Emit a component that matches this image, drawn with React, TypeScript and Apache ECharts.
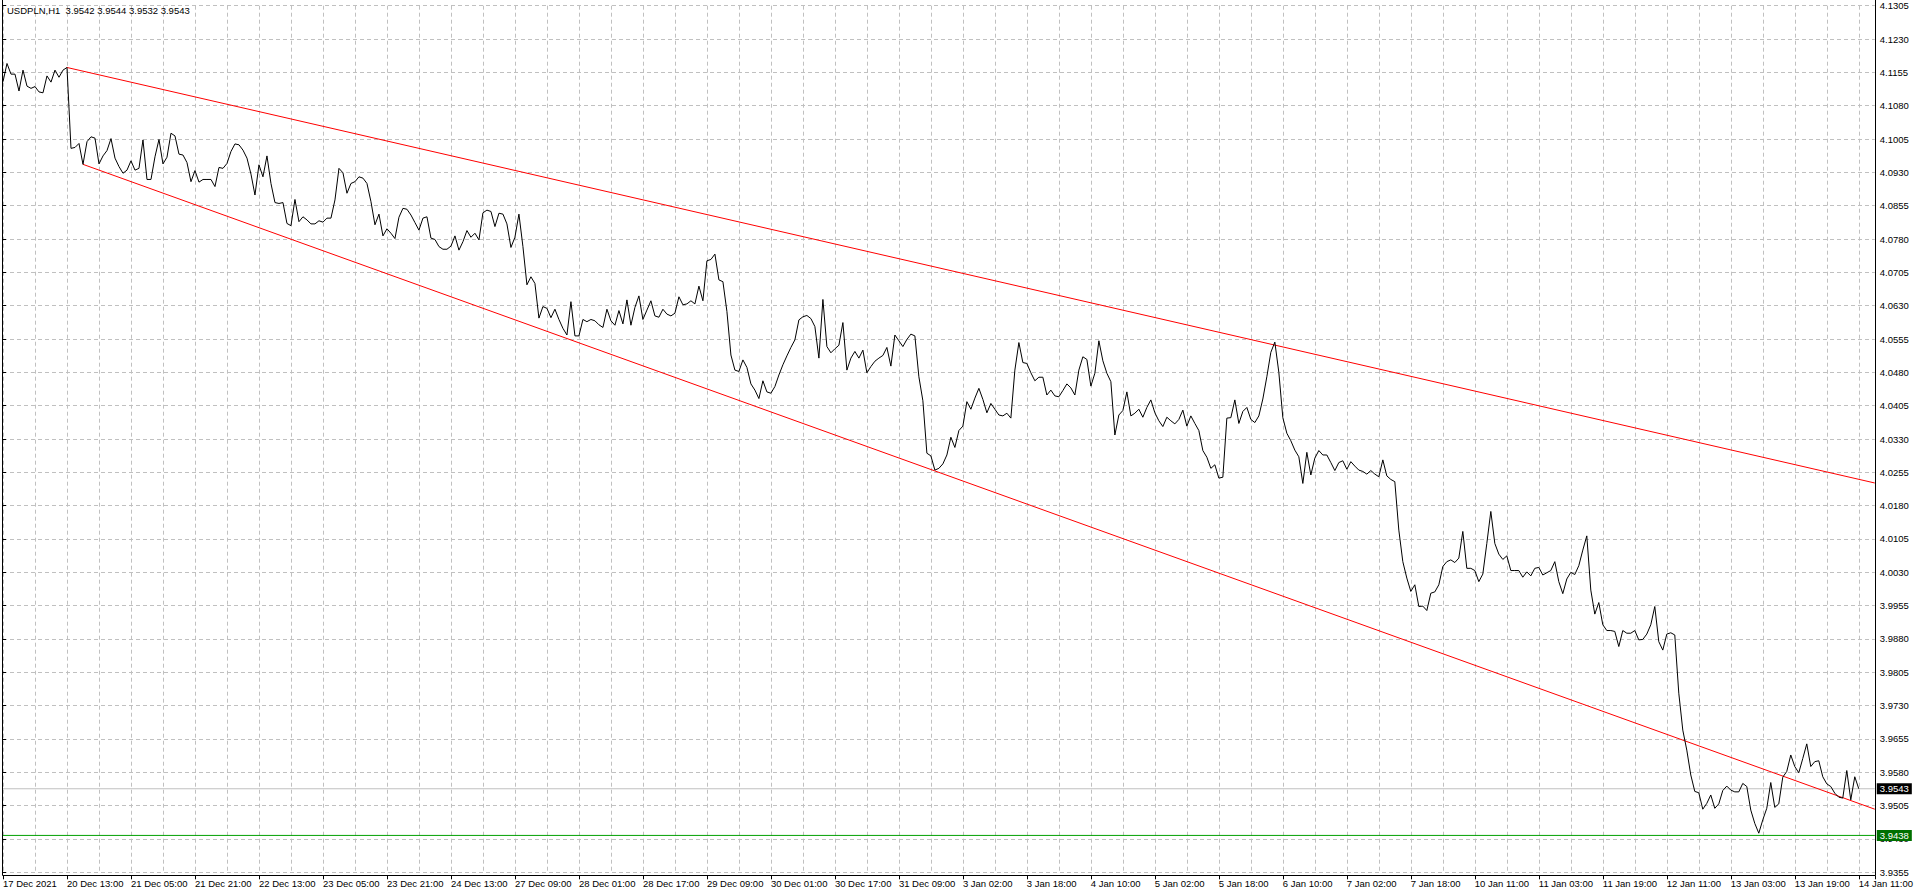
import React, { useEffect, useRef } from "react";
import * as echarts from "echarts";

// ---------- data ----------
const chartTitle = "USDPLN,H1  3.9542 3.9544 3.9532 3.9543";

// time-axis labels, one every 16 hourly bars starting at bar 0
const timeLabels = [
  "17 Dec 2021", "20 Dec 13:00", "21 Dec 05:00", "21 Dec 21:00", "22 Dec 13:00",
  "23 Dec 05:00", "23 Dec 21:00", "24 Dec 13:00", "27 Dec 09:00", "28 Dec 01:00",
  "28 Dec 17:00", "29 Dec 09:00", "30 Dec 01:00", "30 Dec 17:00", "31 Dec 09:00",
  "3 Jan 02:00", "3 Jan 18:00", "4 Jan 10:00", "5 Jan 02:00", "5 Jan 18:00",
  "6 Jan 10:00", "7 Jan 02:00", "7 Jan 18:00", "10 Jan 11:00", "11 Jan 03:00",
  "11 Jan 19:00", "12 Jan 11:00", "13 Jan 03:00", "13 Jan 19:00", "14 Jan 11:00",
];

// hourly closes, bar 0 .. 464
const closes = [
  4.1134, 4.1175, 4.1151, 4.1151, 4.1113, 4.1160, 4.1124, 4.1119, 4.1123, 4.1111,
  4.1109, 4.1147, 4.1133, 4.1160, 4.1144, 4.1160, 4.1166, 4.0984, 4.0986, 4.0995,
  4.0948, 4.0999, 4.1010, 4.1007, 4.0949, 4.0967, 4.0979, 4.1006, 4.0962, 4.0943,
  4.0928, 4.0935, 4.0956, 4.0935, 4.0939, 4.1003, 4.0914, 4.0914, 4.0965, 4.1004,
  4.0949, 4.0964, 4.1018, 4.1012, 4.0971, 4.0969, 4.0952, 4.0909, 4.0934, 4.0908,
  4.0914, 4.0914, 4.0914, 4.0898, 4.0941, 4.0939, 4.0950, 4.0977, 4.0994, 4.0992,
  4.0980, 4.0962, 4.0926, 4.0879, 4.0947, 4.0920, 4.0967, 4.0905, 4.0862, 4.0860,
  4.0862, 4.0815, 4.0810, 4.0869, 4.0819, 4.0830, 4.0823, 4.0814, 4.0814, 4.0821,
  4.0818, 4.0827, 4.0827, 4.0868, 4.0939, 4.0929, 4.0883, 4.0905, 4.0909, 4.0920,
  4.0917, 4.0905, 4.0864, 4.0812, 4.0836, 4.0787, 4.0803, 4.0793, 4.0781, 4.0829,
  4.0849, 4.0847, 4.0834, 4.0817, 4.0800, 4.0827, 4.0830, 4.0782, 4.0779, 4.0763,
  4.0757, 4.0757, 4.0764, 4.0787, 4.0755, 4.0774, 4.0799, 4.0784, 4.0793, 4.0778,
  4.0839, 4.0845, 4.0842, 4.0808, 4.0838, 4.0836, 4.0814, 4.0761, 4.0784, 4.0836,
  4.0763, 4.0677, 4.0695, 4.0680, 4.0602, 4.0628, 4.0624, 4.0603, 4.0622, 4.0599,
  4.0579, 4.0564, 4.0639, 4.0562, 4.0562, 4.0599, 4.0594, 4.0599, 4.0596, 4.0587,
  4.0581, 4.0622, 4.0596, 4.0586, 4.0619, 4.0589, 4.0643, 4.0586, 4.0626, 4.0652,
  4.0599, 4.0620, 4.0641, 4.0607, 4.0604, 4.0622, 4.0611, 4.0607, 4.0613, 4.0650,
  4.0632, 4.0634, 4.0641, 4.0634, 4.0674, 4.0641, 4.0731, 4.0734, 4.0746, 4.0688,
  4.0684, 4.0617, 4.0519, 4.0485, 4.0482, 4.0508, 4.0491, 4.0454, 4.0440, 4.0421,
  4.0461, 4.0436, 4.0433, 4.0448, 4.0474, 4.0497, 4.0517, 4.0536, 4.0553, 4.0598,
  4.0605, 4.0608, 4.0601, 4.0583, 4.0512, 4.0644, 4.0538, 4.0524, 4.0533, 4.0541,
  4.0592, 4.0485, 4.0512, 4.0527, 4.0512, 4.0530, 4.0479, 4.0493, 4.0505, 4.0512,
  4.0518, 4.0536, 4.0494, 4.0564, 4.0551, 4.0538, 4.0554, 4.0566, 4.0562, 4.0470,
  4.0416, 4.0298, 4.0292, 4.0260, 4.0264, 4.0274, 4.0294, 4.0334, 4.0311, 4.0349,
  4.0359, 4.0414, 4.0397, 4.0422, 4.0444, 4.0419, 4.0389, 4.0410, 4.0397, 4.0384,
  4.0382, 4.0388, 4.0377, 4.0485, 4.0547, 4.0502, 4.0500, 4.0479, 4.0461, 4.0469,
  4.0469, 4.0429, 4.0440, 4.0427, 4.0425, 4.0439, 4.0454, 4.0445, 4.0429, 4.0485,
  4.0515, 4.0509, 4.0449, 4.0478, 4.0551, 4.0506, 4.0478, 4.0459, 4.0339, 4.0384,
  4.0394, 4.0436, 4.0382, 4.0388, 4.0397, 4.0379, 4.0401, 4.0418, 4.0389, 4.0371,
  4.0358, 4.0379, 4.0371, 4.0364, 4.0374, 4.0395, 4.0359, 4.0382, 4.0365, 4.0349,
  4.0304, 4.0289, 4.0264, 4.0272, 4.0242, 4.0244, 4.0377, 4.0378, 4.0418, 4.0365,
  4.0392, 4.0401, 4.0374, 4.0367, 4.0382, 4.0420, 4.0470, 4.0525, 4.0548, 4.0480,
  4.0378, 4.0343, 4.0326, 4.0305, 4.0290, 4.0230, 4.0300, 4.0249, 4.0287, 4.0304,
  4.0294, 4.0294, 4.0277, 4.0259, 4.0277, 4.0281, 4.0262, 4.0279, 4.0269, 4.0260,
  4.0257, 4.0251, 4.0259, 4.0251, 4.0245, 4.0283, 4.0247, 4.0239, 4.0234, 4.0125,
  4.0054, 4.0017, 3.9987, 4.0002, 3.9953, 3.9954, 3.9944, 3.9983, 3.9986, 4.0002,
  4.0043, 4.0054, 4.0058, 4.0052, 4.0062, 4.0122, 4.0039, 4.0039, 4.0034, 4.0009,
  4.0026, 4.0095, 4.0167, 4.0095, 4.0071, 4.0059, 4.0067, 4.0034, 4.0034, 4.0034,
  4.0019, 4.0031, 4.0022, 4.0039, 4.0041, 4.0024, 4.0029, 4.0034, 4.0054, 4.0009,
  3.9982, 4.0015, 4.0030, 4.0025, 4.0045, 4.0080, 4.0112, 3.9990, 3.9936, 3.9962,
  3.9912, 3.9899, 3.9899, 3.9897, 3.9863, 3.9899, 3.9893, 3.9893, 3.9899, 3.9878,
  3.9879, 3.9891, 3.9912, 3.9953, 3.9874, 3.9855, 3.9891, 3.9894, 3.9889, 3.9758,
  3.9675, 3.9630, 3.9574, 3.9537, 3.9534, 3.9497, 3.9510, 3.9529, 3.9499, 3.9509,
  3.9539, 3.9549, 3.9540, 3.9536, 3.9536, 3.9555, 3.9548, 3.9495, 3.9465, 3.9443,
  3.9473, 3.9499, 3.9557, 3.9501, 3.9509, 3.9569, 3.9582, 3.9619, 3.9593, 3.9579,
  3.9611, 3.9644, 3.9593, 3.9604, 3.9606, 3.9570, 3.9554, 3.9548, 3.9533, 3.9524,
  3.9522, 3.9584, 3.9518, 3.9570, 3.9543,
];

// trend lines (anchor bar, price)
const upperTrendBars = [16, 468];
const upperTrendPrices = [4.1166, 4.0231];
const lowerTrendBars = [20, 468];
const lowerTrendPrices = [4.0948, 3.9497];

const lastPrice = 3.9543;
const levelPrice = 3.9438;

const priceMin = 3.9355;
const priceMax = 4.1305;
const priceStep = 0.0075;
const barsPerLabel = 16;
const barsPerGrid = 8;
const visibleBars = 468;

// ---------- component ----------
const FONT = "'Liberation Sans', Arial, sans-serif";
const FS = 9.5;
const GRID_COLOR = "#c0c0c0";

function priceTag(text: string, bg: string) {
  return {
    show: true,
    distance: 2,
    formatter: text,
    color: "#fff",
    backgroundColor: bg,
    padding: [1, 3, 0, 3],
    fontSize: FS,
    fontFamily: FONT,
    align: "left",
    verticalAlign: "middle",
  };
}

export default function App() {
  const ref = useRef<HTMLDivElement | null>(null);

  useEffect(() => {
    if (!ref.current) return;
    const chart = echarts.init(ref.current, undefined, { renderer: "svg" });

    const priceData = closes.map((v, i) => [i, v]);
    const upperData = upperTrendBars.map((b, i) => [b, upperTrendPrices[i]]);
    const lowerData = lowerTrendBars.map((b, i) => [b, lowerTrendPrices[i]]);
    const lastLine = [[0, lastPrice], [visibleBars, lastPrice]];
    const levelLine = [[0, levelPrice], [visibleBars, levelPrice]];

    const option: any = {
      animation: false,
      backgroundColor: "#ffffff",
      textStyle: { fontFamily: FONT },
      title: {
        text: chartTitle,
        left: 7,
        top: 5,
        padding: 0,
        textStyle: { fontFamily: FONT, fontSize: FS, fontWeight: "normal", color: "#000" },
      },
      grid: { left: 3, right: 41, top: 5.7, bottom: 23.7, containLabel: false },
      xAxis: [
        {
          type: "value",
          min: 0,
          max: visibleBars,
          interval: barsPerGrid,
          axisLine: { show: false },
          axisTick: { show: false },
          axisLabel: { show: false },
          splitLine: { show: true, lineStyle: { color: GRID_COLOR, width: 1, type: [4, 3] } },
        },
        {
          type: "value",
          min: 0,
          max: visibleBars,
          interval: barsPerLabel,
          position: "bottom",
          offset: 3,
          axisLine: { show: true, lineStyle: { color: "#000", width: 1 } },
          axisTick: { show: true, length: 4, inside: false, lineStyle: { color: "#000", width: 1 } },
          axisLabel: {
            show: true,
            align: "left",
            margin: 3,
            fontSize: FS,
            fontFamily: FONT,
            color: "#000",
            showMinLabel: true,
            showMaxLabel: true,
            formatter: (v: number) => {
              const i = Math.round(v / barsPerLabel);
              if (Math.abs(v - i * barsPerLabel) > 1e-6) return "";
              return timeLabels[i] || "";
            },
          },
          splitLine: { show: false },
        },
      ],
      yAxis: {
        type: "value",
        position: "right",
        min: priceMin,
        max: priceMax,
        interval: priceStep,
        scale: true,
        axisLine: { show: false },
        axisTick: { show: true, length: 3, lineStyle: { color: "#000", width: 1 } },
        axisLabel: {
          show: true,
          margin: 5,
          fontSize: FS,
          fontFamily: FONT,
          color: "#000",
          formatter: (v: number) => v.toFixed(4),
        },
        splitLine: { show: true, lineStyle: { color: GRID_COLOR, width: 1, type: [4, 3] } },
      },
      graphic: [
        { type: "line", z: 50, shape: { x1: 2.5, y1: 0, x2: 2.5, y2: 875.5 }, style: { stroke: "#000", lineWidth: 1 } },
        { type: "line", z: 50, shape: { x1: 1875.5, y1: 0, x2: 1875.5, y2: 875.5 }, style: { stroke: "#000", lineWidth: 1 } },
      ],
      series: [
        {
          type: "line",
          name: "last",
          xAxisIndex: 0,
          data: lastLine,
          symbol: "none",
          clip: false,
          color: "#c0c0c0",
          lineStyle: { color: "#c0c0c0", width: 1 },
          z: 2,
          silent: true,
          endLabel: priceTag(lastPrice.toFixed(4), "#000"),
        },
        {
          type: "line",
          name: "level",
          xAxisIndex: 0,
          data: levelLine,
          symbol: "none",
          clip: false,
          color: "#00a000",
          lineStyle: { color: "#00a000", width: 1 },
          z: 2,
          silent: true,
          endLabel: priceTag(levelPrice.toFixed(4), "#007000"),
        },
        {
          type: "line",
          name: "upper",
          xAxisIndex: 0,
          data: upperData,
          symbol: "none",
          clip: false,
          color: "#ff0000",
          lineStyle: { color: "#ff0000", width: 1 },
          z: 3,
          silent: true,
        },
        {
          type: "line",
          name: "lower",
          xAxisIndex: 0,
          data: lowerData,
          symbol: "none",
          clip: false,
          color: "#ff0000",
          lineStyle: { color: "#ff0000", width: 1 },
          z: 3,
          silent: true,
        },
        {
          type: "line",
          name: "USDPLN",
          xAxisIndex: 0,
          data: priceData,
          symbol: "none",
          clip: false,
          color: "#000",
          lineStyle: { color: "#000", width: 1 },
          z: 4,
          silent: true,
        },
      ],
    };

    chart.setOption(option);
    return () => chart.dispose();
  }, []);

  return (
    <div
      ref={ref}
      style={{ position: "fixed", left: 0, top: 0, width: 1916, height: 896, background: "#fff" }}
    />
  );
}
